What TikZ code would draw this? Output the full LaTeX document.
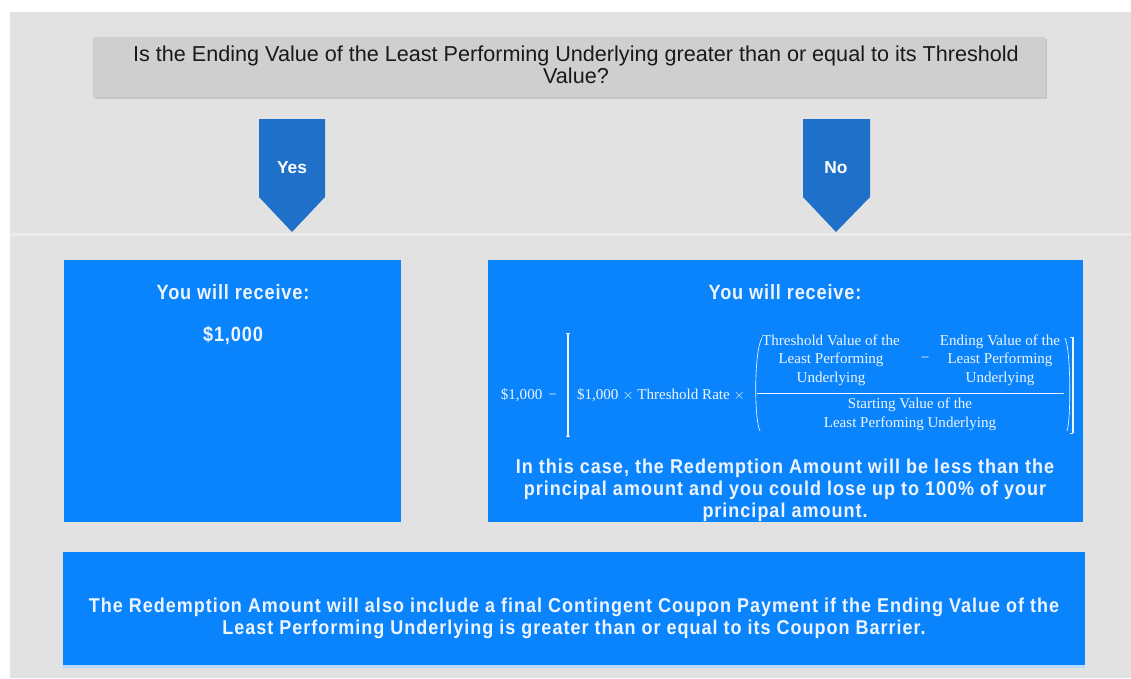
\documentclass[tikz,border=0pt]{standalone}
\usepackage{fontspec}
\setmainfont{Liberation Sans}
\newfontfamily\qfont{Liberation Sans}
\newfontfamily\narrow[FakeStretch=0.9,LetterSpace=5]{Liberation Sans}
\newfontfamily\narrowh[FakeStretch=0.88,LetterSpace=4]{Liberation Sans}
\newfontfamily\frm{Liberation Serif}
\definecolor{panel}{HTML}{E2E2E2}
\definecolor{qbox}{HTML}{CFCFCF}
\definecolor{arrowblue}{HTML}{1E70C8}
\definecolor{boxblue}{HTML}{0A84FC}
\definecolor{txt}{HTML}{EEF4FF}
\tikzset{
  bluebox/.style={fill=boxblue,draw=none},
  arrowshape/.style={fill=arrowblue,draw=none},
  headtxt/.style={text=txt,font=\narrowh\bfseries\fontsize{15.5}{17}\selectfont,inner sep=0pt},
  bodytxt/.style={text=txt,font=\narrow\bfseries\fontsize{15}{16.5}\selectfont,align=center,inner sep=0pt},
  ftxt/.style={text=txt,font=\frm\fontsize{11.3}{14}\selectfont,align=center,inner sep=0pt},
  fline/.style={draw=txt,line width=0.9pt}
}
\begin{document}
\begin{tikzpicture}[x=0.75pt,y=-0.75pt]
\useasboundingbox (0,0) rectangle (1131,678);
\fill[white] (0,0) rectangle (1131,678);
% panel
\fill[panel] (10,12) rectangle (1131,678);
\fill[white!35!panel] (10,233) rectangle (1131,236);
% question box
\fill[black!22] (95,39) rectangle (1047,99);
\fill[qbox] (93,37) rectangle (1045,97);
\node[font=\qfont\fontsize{16.2}{13.5}\selectfont,align=center,inner sep=0pt,text=black!90] (q) at (576,65)
  {Is the Ending Value of the Least Performing Underlying greater than or equal to its Threshold\\Value?};
% arrows
\fill[arrowshape] (259,119) -- (325,119) -- (325,197) -- (292,232) -- (259,197) -- cycle;
\node[text=white,font=\qfont\bfseries\fontsize{13}{13}\selectfont,inner sep=0pt] (yes) at (292,168) {Yes};
\fill[arrowshape] (803,119) -- (870,119) -- (870,197) -- (836,232) -- (803,197) -- cycle;
\node[text=white,font=\qfont\bfseries\fontsize{13}{13}\selectfont,inner sep=0pt] (no) at (836,168) {No};
% left box
\fill[bluebox] (64,260) rectangle (401,522);
\node[headtxt] (l1) at (233,292) {You will receive:};
\node[headtxt] (l2) at (233,335) {\$1,000};
% right box
\fill[bluebox] (488,260) rectangle (1083,522);
\node[headtxt] (r1) at (785,292) {You will receive:};
% formula
\node[ftxt] (f1) at (529,395) {\$1,000 \,\textminus};
\node[ftxt] (f2) at (661,395) {\$1,000 $\times$ Threshold Rate $\times$};
\node[ftxt] (n1) at (831,360) {Threshold Value of the\\Least Performing\\Underlying};
\node[ftxt] (mn) at (925,360) {\textminus};
\node[ftxt] (n2) at (1000,360) {Ending Value of the\\Least Performing\\Underlying};
\node[ftxt] (d1) at (910,414) {Starting Value of the\\Least Perfoming Underlying};
\draw[fline,line width=0.6pt] (757,393) -- (1064,393);
% big bracket left
\draw[fline] (568,333) -- (568,436);
\draw[fline,line width=0.6pt] (566,333) -- (570,333) (566,436) -- (570,436);
% big bracket right
\draw[fline] (1073,337) -- (1073,433);
\draw[fline,line width=0.6pt] (1070,337) -- (1073,337) (1070,433) -- (1073,433);
% parens
\draw[draw=txt,line width=0.5pt] (762,338) .. controls (754,350) and (754,420) .. (760,431);
\draw[draw=txt,line width=0.5pt] (1065,338) .. controls (1071,350) and (1071,420) .. (1067,431);
\node[bodytxt] (r3) at (785,490) {In this case, the Redemption Amount will be less than the\\principal amount and you could lose up to 100\% of your\\principal amount.};
% bottom box
\fill[bluebox] (63,552) rectangle (1085,665);
\fill[white!70!boxblue] (63,665) rectangle (1085,668);
\node[bodytxt] (b1) at (574,618) {The Redemption Amount will also include a final Contingent Coupon Payment if the Ending Value of the\\Least Performing Underlying is greater than or equal to its Coupon Barrier.};
\end{tikzpicture}
\end{document}
